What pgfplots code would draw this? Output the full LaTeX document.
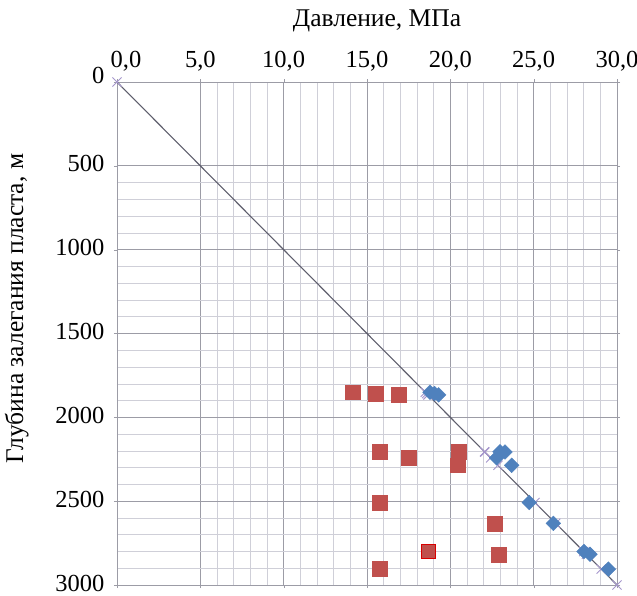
\documentclass[border=0pt]{standalone}
\usepackage{fontspec}
\setmainfont{Liberation Serif}
\usepackage{pgfplots}
\pgfplotsset{compat=1.18}

\definecolor{redm}{HTML}{C0504D}
\definecolor{bluem}{HTML}{4F81BD}
\definecolor{crossc}{HTML}{A596CC}
\definecolor{linec}{HTML}{5E5E6C}
\definecolor{gridmin}{HTML}{CFCFD8}
\definecolor{gridmaj}{HTML}{9C9CA6}

\begin{document}
\begin{tikzpicture}
\begin{axis}[
  name=ax,
  scale only axis,
  width=500pt, height=503pt,
  xmin=0, xmax=30, ymin=0, ymax=3000,
  y dir=reverse,
  xtick={5,10,...,30}, ytick={500,1000,...,3000},
  extra x ticks={0},
  extra x tick style={xticklabel style={xshift=9pt}},
  extra y ticks={0},
  extra y tick style={yticklabel style={yshift=5pt}},
  minor x tick num=4, minor y tick num=4,
  grid=both,
  minor grid style={gridmin, line width=0.6pt},
  major grid style={gridmaj, line width=0.7pt},
  axis line style={gridmaj, line width=0.7pt},
  tick align=outside, major tick length=3pt, minor tick length=0pt,
  tick style={gridmaj},
  xticklabel pos=upper,
  xlabel={Давление, МПа},
  ylabel={Глубина залегания пласта, м},
  every tick label/.append style={font=\fontsize{24.5}{29}\selectfont},
  label style={font=\fontsize{25.5}{29}\selectfont},
  /pgf/number format/assume math mode=true,
  x tick label style={/pgf/number format/fixed, /pgf/number format/fixed zerofill,
    /pgf/number format/precision=1, /pgf/number format/use comma, yshift=4pt},
  y tick label style={/pgf/number format/fixed, /pgf/number format/set thousands separator={}, xshift=-6pt, yshift=2pt},
  xlabel style={yshift=7pt, xshift=10pt},
  ylabel style={yshift=14pt, xshift=25pt},
  clip=false,
]
% hydrostatic points on the line
\addplot[only marks, mark=x, mark size=6.5pt, crossc, line width=0.9pt] coordinates {
  (0,0) (18.50,1850) (18.58,1858) (18.66,1866) (22.05,2205) (22.07,2207)
  (22.42,2242) (22.86,2286) (25.08,2508) (26.32,2632) (28.00,2800)
  (28.17,2817) (29.05,2905) (30,3000)
};
% hydrostatic line
\addplot[linec, line width=1.1pt, no marks] coordinates {(0,0) (30,3000)};
% measured (red)
\addplot[only marks, mark=square*, mark size=7.4pt, draw=redm, fill=redm] coordinates {
  (14.14,1850) (15.52,1858) (16.92,1866)
  (15.78,2205) (20.48,2207) (17.52,2242) (20.44,2286)
  (15.78,2508) (22.64,2632) (22.92,2817) (15.78,2905)
};
\addplot[only marks, mark=square*, mark size=7.0pt, draw=red!85!black, line width=1.2pt, fill=redm] coordinates {
  (18.68,2800)
};
% blue
\addplot[only marks, mark=square*, mark size=5.2pt, draw=bluem, fill=bluem, mark options={rotate=45}] coordinates {
  (18.78,1850) (19.05,1858) (19.30,1866)
  (22.98,2205) (23.28,2207) (22.78,2242) (23.68,2286)
  (24.74,2508) (26.18,2632) (28.02,2800) (28.38,2817) (29.48,2905)
};
\end{axis}
\pgfresetboundingbox
\path[use as bounding box] (ax.south west) ++(-117pt,-10pt) rectangle ++(637pt,595pt);
\end{tikzpicture}
\end{document}
